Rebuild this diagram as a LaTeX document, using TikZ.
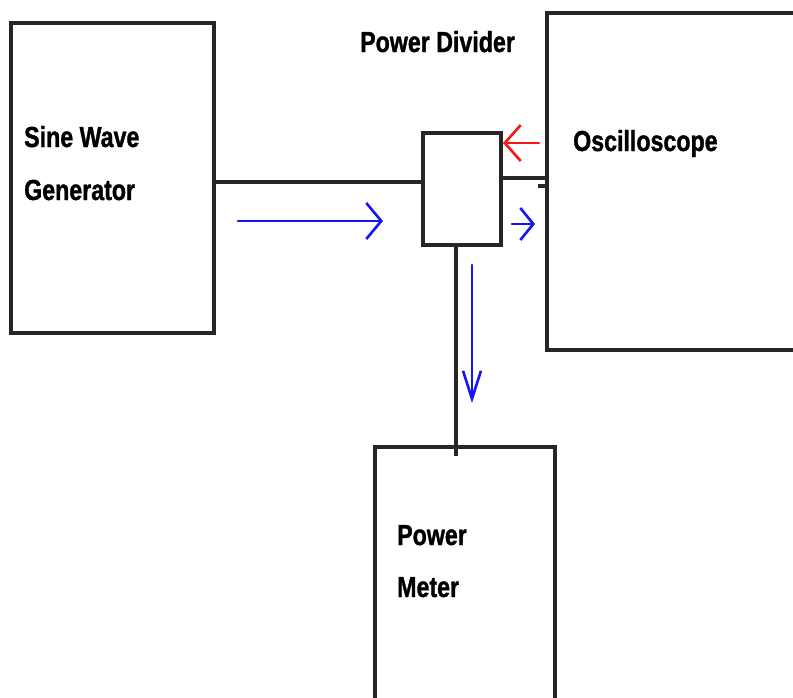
\documentclass[tikz,border=0pt]{standalone}
\usepackage{fontspec}
\setmainfont{Liberation Sans}[FakeStretch=0.8,BoldFeatures={FakeBold=1.2}]
\usetikzlibrary{arrows.meta}
\definecolor{arrblue}{RGB}{20,20,245}
\definecolor{arrred}{RGB}{250,20,20}
\begin{document}
\begin{tikzpicture}[x=1pt,y=-1pt,
  blk/.style={draw=black!85,line width=3.4pt},
  wire/.style={draw=black!85,line width=3.4pt},
  lbl/.style={font=\fontsize{29}{29}\selectfont\bfseries,anchor=base west,inner sep=0pt,text=black},
  flow/.style={line width=2.8pt,line cap=round}]
\useasboundingbox (0,0) rectangle (793,697);
\begin{scope}
\clip (0,0) rectangle (793,697);
% boxes
\draw[blk] (11,23) rectangle (214,333);
\coordinate (gen) at (214,182);
\draw[blk] (547,13) rectangle (810,350);
\draw[blk] (423,133) rectangle (501,245);
\draw[blk] (375,447) rectangle (555,720);
\coordinate (divL) at (423,182);
\coordinate (divR) at (501,178);
\coordinate (oscL) at (547,178);
\coordinate (stubA) at (538,186);
\coordinate (stubB) at (547,186);
\coordinate (divB) at (456,245);
\coordinate (pmT) at (456,456);
% wires
\draw[wire] (gen) -- (divL);
\draw[wire] (divR) -- (oscL);
\draw[wire] (stubA) -- (stubB);
\draw[wire] (divB) -- (pmT);
% flow arrows
\coordinate (b1s) at (238,221);
\coordinate (b1e) at (383,221);
\draw[flow,arrblue,-{Straight Barb[length=15pt,width=36pt,line width=2.6pt]}] (b1s) -- (b1e);
\coordinate (b2s) at (512,224);
\coordinate (b2e) at (535,224);
\draw[flow,arrblue,-{Straight Barb[length=13pt,width=32pt,line width=2.6pt]}] (b2s) -- (b2e);
\coordinate (r1s) at (539,143);
\coordinate (r1e) at (503,143);
\draw[flow,arrred,-{Straight Barb[length=16pt,width=36pt,line width=2.6pt]}] (r1s) -- (r1e);
\coordinate (b3s) at (472,265);
\coordinate (b3e) at (472,403);
\draw[flow,arrblue,-{Straight Barb[length=28pt,width=18pt,line width=2.6pt]}] (b3s) -- (b3e);
\end{scope}
% labels
\node[lbl] (tdiv) at (360,52) {Power Divider};
\node[lbl] (tgen1) at (24,147) {Sine Wave};
\node[lbl] (tgen2) at (24,200) {Generator};
\node[lbl] (tosc) at (573,151) {Oscilloscope};
\node[lbl] (tpm1) at (397,545) {Power};
\node[lbl] (tpm2) at (397,597) {Meter};
\end{tikzpicture}
\end{document}
